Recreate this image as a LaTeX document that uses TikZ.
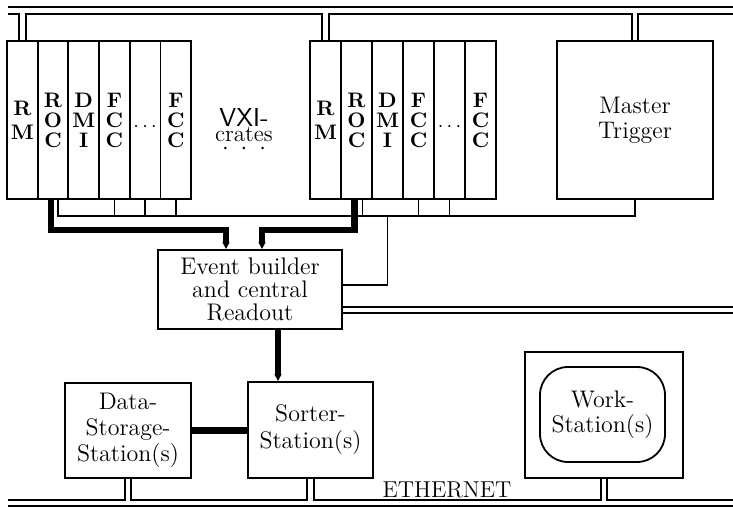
\documentclass[tikz,border=0pt]{standalone}
\usepackage{tikz}
\usetikzlibrary{positioning,arrows.meta,calc,backgrounds}
\tikzset{
  slot/.style={draw,line width=0.9pt,minimum width=15.4pt,minimum height=79pt,
    inner sep=0pt,align=center,font=\fontsize{10.5}{10}\selectfont\bfseries},
  procbox/.style={draw,line width=0.9pt,inner sep=1pt,align=center,
    font=\fontsize{12}{12.5}\selectfont},
  bus/.style={double,double distance=2.4pt,line width=0.9pt},
  thn/.style={line width=0.9pt},
  thk/.style={line width=3.2pt},
  thka/.style={thk,-{Triangle[length=3.5pt,width=3.4pt]}},
}
\begin{document}
\begin{tikzpicture}[x=0.5pt,y=-0.5pt]
  \useasboundingbox (0,0) rectangle (733,507);
  % --- two VXI crates ---
  \foreach \lbl [count=\i] in {R\\[2pt]M,R\\O\\C,D\\M\\I,F\\C\\C,{},F\\C\\C}{
    \node[slot] (l\i) at ({7+30.7*(\i-0.5)},120) {\lbl};
    \node[slot] (r\i) at ({310+31*(\i-0.5)},120) {\lbl};
  }
  \node[yshift=-3.5pt] (ldots) at (l5) {$\cdots$};
  \node[yshift=-3.5pt] (rdots) at (r5) {$\cdots$};
  \node[align=center,inner sep=0pt,font=\fontsize{11.5}{7.5}\selectfont] (vxi) at (244,131)
    {{\sffamily\fontsize{13}{7.5}\selectfont VXI-}\\crates\\[-1pt]
     $\cdotp\hspace{4pt}\cdotp\hspace{4pt}\cdotp$};
  \node[procbox,minimum width=78pt,minimum height=79pt] (mt) at (635,120)
    {Master\\Trigger};
  % --- readout and stations ---
  \node[procbox,minimum width=92pt,minimum height=39.5pt,
    font=\fontsize{12}{11.5}\selectfont] (eb) at (250,289.5)
    {Event builder\\and central\\Readout};
  \node[procbox,minimum width=63pt,minimum height=47.5pt,
    font=\fontsize{12}{13}\selectfont] (ds) at (128,430.5)
    {Data-\\Storage-\\Station(s)};
  \node[procbox,minimum width=62.5pt,minimum height=48pt,
    font=\fontsize{12}{13.5}\selectfont] (so) at (310.5,430)
    {Sorter-\\Station(s)};
  \node[draw,line width=0.9pt,minimum width=79pt,minimum height=63pt] (ws) at (604,415) {};
  \node[procbox,rounded corners=14pt,minimum width=62.5pt,minimum height=47.5pt] (wsi)
    at (602.5,414.5) {Work-\\Station(s)};
  \node[font=\fontsize{11.5}{11}\selectfont,anchor=base] (eth) at (447,497) {ETHERNET};
  % --- buses ---
  \begin{scope}[on background layer]
    \coordinate (tbl) at (8,10.5);
    \coordinate (tbr) at (733,10.5);
    \draw[bus] (tbl) -- (tbr)
      (l1.north) -- (l1.north |- tbl)
      (r1.north) -- (r1.north |- tbl)
      (mt.north) -- (mt.north |- tbl);
    \coordinate (mbr) at (733,0);
    \draw[bus] ([yshift=-10.25pt]eb.east) coordinate (mbl) -- (mbl -| mbr);
    \coordinate (ebl) at (8,503);
    \coordinate (ebr) at (733,503);
    \draw[bus] (ebl) -- (ebr)
      (ds.south) -- (ds.south |- ebl)
      (so.south) -- (so.south |- ebl)
      (ws.south) -- (ws.south |- ebl);
  \end{scope}
  % local bus under the crates
  \coordinate (lb) at (0,216);
  \draw[thn] ([xshift=2.5pt]l2.south) |- (lb -| mt.south) -- (mt.south);
  \draw[thn] ([xshift=3pt]r2.south) -- ([xshift=3pt]r2.south |- lb);
  \foreach \s in {l4,l5,l6,r4,r5}
    \draw[thn] (\s.south) -- (\s.south |- lb);
  \draw[thn] ([yshift=2.25pt]eb.east) -| (lb -| r3.south);
  % data paths
  \coordinate (tk) at (0,230);
  \draw[thka] ([xshift=-1pt]l2.south) |- ([xshift=-12pt]eb.north |- tk)
    -- ([xshift=-12pt]eb.north);
  \draw[thka] ([xshift=-1pt]r2.south) |- ([xshift=6pt]eb.north |- tk)
    -- ([xshift=6pt]eb.north);
  \draw[thka] ([xshift=14pt]eb.south) -- ([xshift=14pt]eb.south |- so.north);
  \draw[thk] (ds.east) -- (so.west |- ds.east);
\end{tikzpicture}
\end{document}
